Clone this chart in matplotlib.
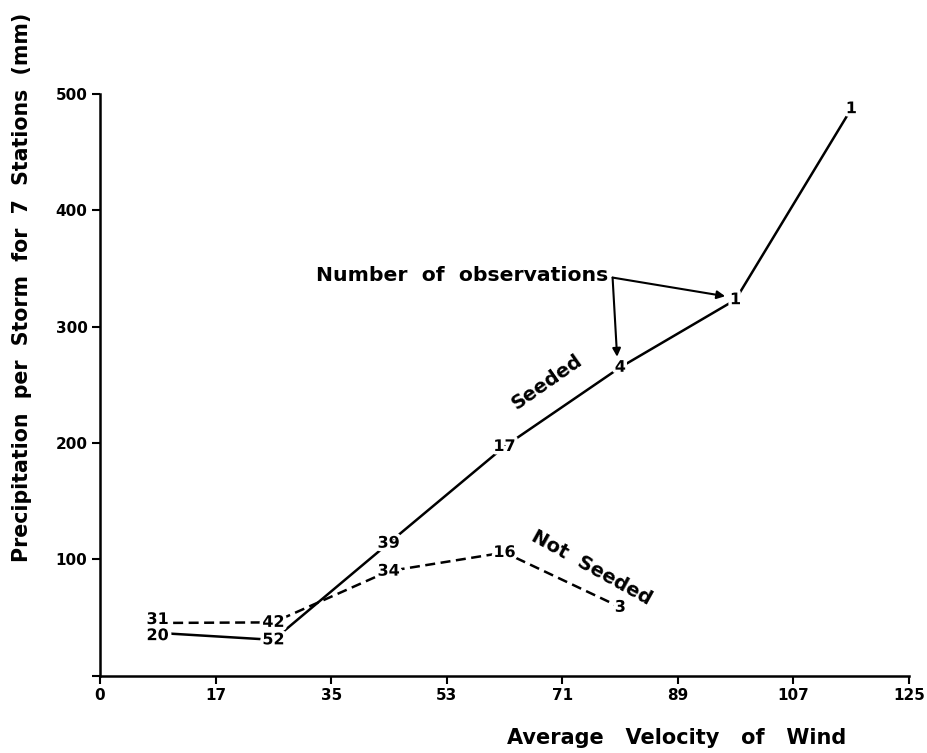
import numpy as np
import matplotlib
matplotlib.use("Agg")
import matplotlib.pyplot as plt
import matplotlib.patheffects as pe

# velocity class midpoints (x) and mean precipitation per storm (mm)
seeded_x = [8.9, 26.8, 44.6, 62.5, 80.4, 98.2, 116.1]
seeded_y = [37, 31, 114, 197, 265, 323, 487]
seeded_n = [20, 52, 39, 17, 4, 1, 1]

notseeded_x = [8.9, 26.8, 44.6, 62.5, 80.4]
notseeded_y = [45.5, 46, 90, 106, 59]
notseeded_n = [31, 42, 34, 16, 3]

x_ticks = [0, 17.86, 35.71, 53.57, 71.43, 89.29, 107.14, 125]
x_tick_labels = ['0', '17', '35', '53', '71', '89', '107', '125']
y_ticks = [0, 100, 200, 300, 400, 500]
y_tick_labels = ['', '100', '200', '300', '400', '500']

plt.rcParams['font.family'] = ['DejaVu Sans']
plt.rcParams['font.weight'] = 'bold'

fig = plt.figure(figsize=(9.28, 7.53), dpi=100)
ax = fig.add_axes([0.1078, 0.1023, 0.8717, 0.7735])

ax.plot(seeded_x, seeded_y, color='black', lw=1.8, solid_capstyle='round', zorder=1)
ax.plot(notseeded_x, notseeded_y, color='black', lw=1.8, dashes=(4, 2.2), zorder=1)

# white halo around the numbers breaks the lines like in the original
halo = [pe.withStroke(linewidth=5, foreground='white')]
for i, (x, y, n) in enumerate(zip(seeded_x, seeded_y, seeded_n)):
    dy = -2 if i == 0 else 0   # first two labels sit tight on top of each other
    ax.annotate(str(n), (x, y), xytext=(0, dy), textcoords='offset points',
                ha='center', va='center', fontsize=11.5, fontweight='bold',
                path_effects=halo, zorder=3)
for i, (x, y, n) in enumerate(zip(notseeded_x, notseeded_y, notseeded_n)):
    dy = 2.5 if i == 0 else 0
    ax.annotate(str(n), (x, y), xytext=(0, dy), textcoords='offset points',
                ha='center', va='center', fontsize=11.5, fontweight='bold',
                path_effects=halo, zorder=2)

ax.text(69.1, 252, 'Seeded', rotation=35, ha='center', va='center',
        fontsize=14, fontweight='bold')
ax.text(76.0, 93, 'Not  Seeded', rotation=-29, ha='center', va='center',
        fontsize=14, fontweight='bold')

ax.text(78.6, 344, 'Number  of  observations', ha='right', va='center',
        fontsize=14.7, fontweight='bold')
arrow = dict(arrowstyle='-|>', color='black', lw=1.5, mutation_scale=12,
             shrinkA=0, shrinkB=0)
ax.annotate('', xy=(96.6, 326), xytext=(79.2, 342), arrowprops=arrow)
ax.annotate('', xy=(79.9, 274), xytext=(79.2, 342), arrowprops=arrow)

ax.set_xlim(0, 125)
ax.set_ylim(0, 500)
ax.spines['top'].set_visible(False)
ax.spines['right'].set_visible(False)
ax.spines['left'].set_linewidth(1.8)
ax.spines['bottom'].set_linewidth(1.8)

ax.set_xticks(x_ticks)
ax.set_xticklabels(x_tick_labels, fontsize=11, fontweight='bold')
ax.set_yticks(y_ticks)
ax.set_yticklabels(y_tick_labels, fontsize=11, fontweight='bold')
ax.tick_params(axis='both', direction='out', length=6, width=1.5, pad=3)

fig.text(0.024, 0.618, 'Precipitation  per  Storm  for  7  Stations  (mm)',
         rotation=90, ha='center', va='center', fontsize=14.8, fontweight='bold')
fig.text(0.729, 0.02, 'Average   Velocity   of   Wind', ha='center', va='center',
         fontsize=15, fontweight='bold')

fig.savefig('out.png', dpi=100)
